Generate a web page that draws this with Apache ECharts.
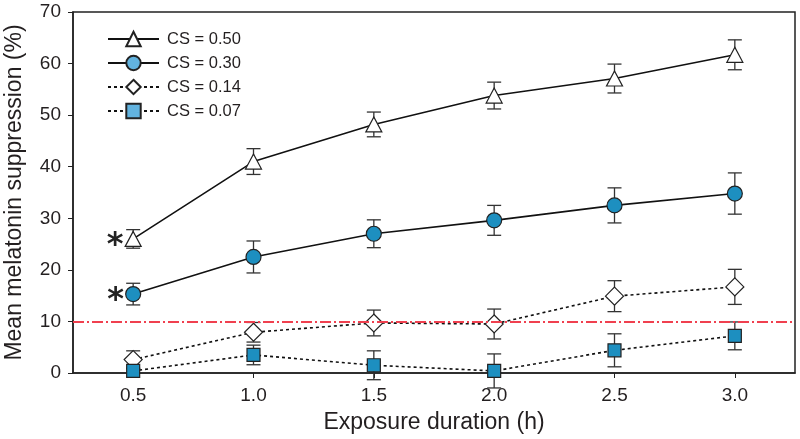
<!DOCTYPE html>
<html><head><meta charset="utf-8">
<script src="https://cdn.jsdelivr.net/npm/echarts@6/dist/echarts.min.js"></script>
<style>html,body{margin:0;padding:0;background:#fff}#c{width:800px;height:439px}</style>
</head><body><div id="c"></div>
<script>
const durations = [0.5, 1.0, 1.5, 2.0, 2.5, 3.0];
const xTicks = [0.5, 1.0, 1.5, 2.0, 2.5, 3.0];
const yTicks = [0, 10, 20, 30, 40, 50, 60, 70];
const names = ['CS = 0.50', 'CS = 0.30', 'CS = 0.14', 'CS = 0.07'];
const cs050 = [26.0, 41.0, 48.2, 53.8, 57.1, 61.7];
const cs050err = [1.8, 2.5, 2.4, 2.6, 2.8, 2.9];
const cs030 = [15.3, 22.5, 27.0, 29.6, 32.5, 34.8];
const cs030err = [2.1, 3.1, 2.7, 2.9, 3.4, 4.0];
const cs014 = [2.6, 7.9, 9.7, 9.5, 14.9, 16.7];
const cs014err = [1.7, 1.9, 2.5, 2.9, 3.0, 3.4];
const cs007 = [0.4, 3.5, 1.5, 0.4, 4.4, 7.2];
const cs007err = [0.5, 1.9, 2.8, 3.3, 3.2, 2.7];
const threshold = 10;
const starredIndex = 0;

const font = 'Liberation Sans, Arial, sans-serif';
const blue = '#1d8fc0';
const legendBlue = '#62b3df';
const edge = '#222';

function pts(vals, starred) {
  return durations.map((d, i) => {
    const item = {value: [d, vals[i]]};
    if (starred && i === starredIndex) {
      item.label = {show: true, formatter: '*', position: 'left', distance: 1,
        fontSize: 32, fontWeight: 'bold', color: '#222', fontFamily: 'DejaVu Sans',
        offset: [0, 7]};
    }
    return item;
  });
}
function errData(vals, errs) {
  return durations.map((d, i) => [d, vals[i], errs[i]]);
}
function errSeries(vals, errs) {
  return {
    type: 'custom', silent: true, z: 1,
    data: errData(vals, errs),
    encode: {x: 0, y: 1},
    renderItem: function (params, api) {
      const x = api.value(0), y = api.value(1), e = api.value(2);
      const top = api.coord([x, y + e]);
      const bot = api.coord([x, y - e]);
      const hw = 7;
      const st = {stroke: '#333', lineWidth: 1.3};
      return {type: 'group', children: [
        {type: 'line', shape: {x1: top[0], y1: top[1], x2: bot[0], y2: bot[1]}, style: st},
        {type: 'line', shape: {x1: top[0] - hw, y1: top[1], x2: top[0] + hw, y2: top[1]}, style: st},
        {type: 'line', shape: {x1: bot[0] - hw, y1: bot[1], x2: bot[0] + hw, y2: bot[1]}, style: st}
      ]};
    }
  };
}
function lineSeries(name, vals, symbol, size, fill, dashed, starred) {
  return {
    name: name, type: 'line', data: pts(vals, starred), symbol: symbol, symbolSize: size,
    showAllSymbol: true, z: 3,
    lineStyle: {color: '#111', width: 1.6, type: dashed ? [3, 3] : 'solid'},
    itemStyle: {color: fill, borderColor: edge, borderWidth: 1.2},
    emphasis: {disabled: true}, animation: false
  };
}

const chart = echarts.init(document.getElementById('c'), null, {renderer: 'canvas'});
const series = [
  errSeries(cs050, cs050err), errSeries(cs030, cs030err),
  errSeries(cs014, cs014err), errSeries(cs007, cs007err),
  lineSeries(names[0], cs050, 'triangle', [16, 15], '#fff', false, true),
  lineSeries(names[1], cs030, 'circle', 15, blue, false, true),
  lineSeries(names[2], cs014, 'diamond', [18, 18], '#fff', true, false),
  lineSeries(names[3], cs007, 'rect', 13, blue, true, false)
];
series[4].markLine = {
  silent: true, symbol: 'none', label: {show: false}, animation: false,
  lineStyle: {color: '#f0404f', width: 1.8, type: [11, 3, 2, 3]},
  data: [{yAxis: threshold}]
};
chart.setOption({
  animation: false,
  backgroundColor: '#fff',
  textStyle: {fontFamily: font},
  grid: {left: 73, right: 5, top: 12, bottom: 66, show: true, borderColor: '#222', borderWidth: 1.5,
    containLabel: false, outerBoundsMode: 'none'},
  legend: {
    orient: 'vertical', left: 107, top: 30, padding: 0, itemGap: 6, itemWidth: 51, itemHeight: 18,
    textStyle: {fontSize: 16.5, color: '#231f20', fontFamily: font, padding: [0, 0, 0, 3], lineHeight: 18},
    data: [
      {name: names[0]},
      {name: names[1], itemStyle: {color: legendBlue}},
      {name: names[2]},
      {name: names[3], itemStyle: {color: legendBlue}}
    ]
  },
  xAxis: {
    type: 'value', min: 0.25, max: 3.25,
    name: 'Exposure duration (h)', nameLocation: 'middle', nameGap: 38,
    nameTextStyle: {fontSize: 23, color: '#231f20', fontFamily: font},
    axisLine: {lineStyle: {color: '#222', width: 1.5}},
    axisTick: {show: true, length: 5, customValues: xTicks, lineStyle: {color: '#222'}},
    axisLabel: {customValues: xTicks, formatter: v => v.toFixed(1), fontSize: 19, color: '#231f20', margin: 13},
    splitLine: {show: false}
  },
  yAxis: {
    type: 'value', min: 0, max: 70, interval: 10,
    name: 'Mean melatonin suppression (%)', nameLocation: 'middle', nameGap: 47,
    nameTextStyle: {fontSize: 23, color: '#231f20', fontFamily: font},
    axisLine: {show: true, lineStyle: {color: '#222', width: 1.5}},
    axisTick: {show: true, length: 5, lineStyle: {color: '#222'}},
    axisLabel: {fontSize: 19, color: '#231f20', margin: 12, formatter: v => (yTicks.indexOf(v) >= 0 ? String(v) : '')},
    splitLine: {show: false}
  },
  series: series
});
</script></body></html>
